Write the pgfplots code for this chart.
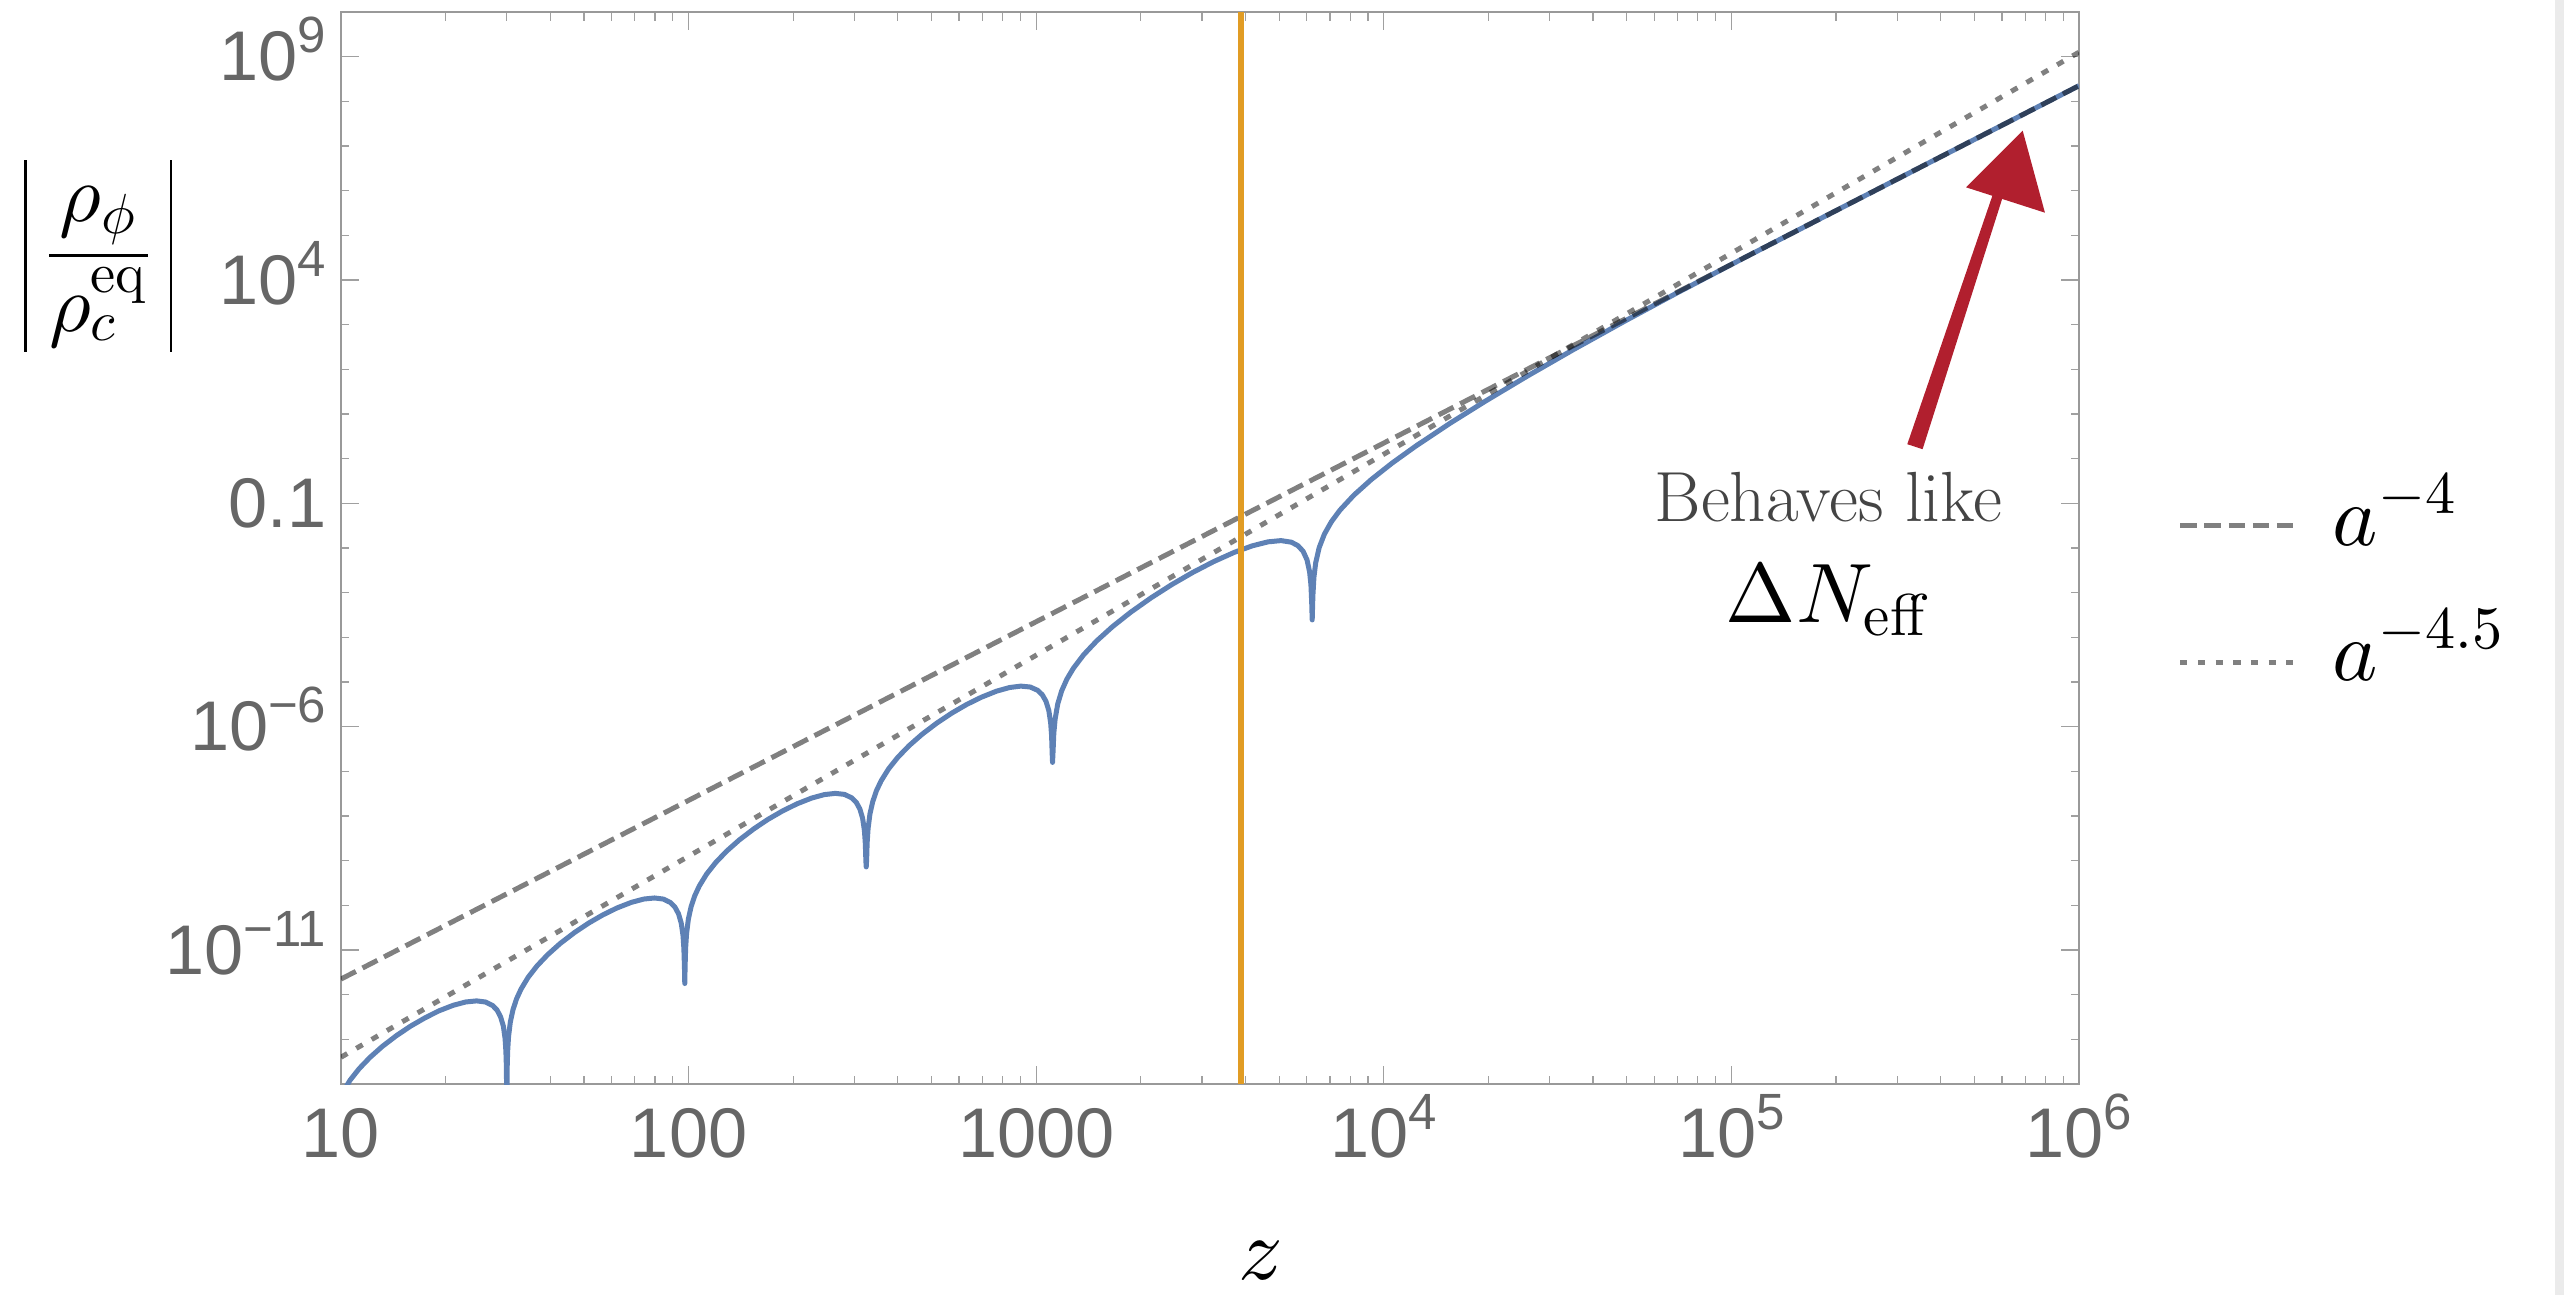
\RequirePackage{fix-cm}
\documentclass[border=0pt]{standalone}
\usepackage[no-math]{fontspec}
\setsansfont{Liberation Sans}
\DeclareFontShape{OML}{cmm}{m}{it}{<->cmmi10}{}
\DeclareFontShape{OMS}{cmsy}{m}{n}{<->cmsy10}{}
\DeclareFontShape{OT1}{cmr}{m}{n}{<->cmr10}{}
\DeclareFontShape{OMX}{cmex}{m}{n}{<->cmex10}{}
\usepackage{pgfplots}
\pgfplotsset{compat=1.18}
\definecolor{mblue}{HTML}{5E81B5}
\definecolor{morange}{HTML}{E19C24}
\definecolor{lgray}{HTML}{808080}
\definecolor{framegray}{HTML}{999999}
\definecolor{tickgray}{HTML}{A0A0A0}
\definecolor{labgray}{HTML}{666666}
\definecolor{arrowred}{HTML}{B11F2E}
\definecolor{txtgray}{HTML}{444444}
\definecolor{stripgray}{HTML}{EBEBEB}
\newcommand{\ex}[1]{\smash{\raisebox{0.4em}{\fontsize{14.5}{16}\selectfont #1}}}
\newcommand{\absbar}{\vcenter{\hbox{\vrule width 0.7pt height 27.3pt depth 27.3pt}}}
\begin{document}
\begin{tikzpicture}
\useasboundingbox (-3.41,-2.11) rectangle (22.23,10.84);
\begin{axis}[
  scale only axis, width=17.38cm, height=10.72cm,
  at={(0,0)}, anchor=south west,
  xmin=1, xmax=6, ymin=-14, ymax=10,
  clip mode=individual,
  xtick={1,2,3,4,5,6},
  xticklabels={10,100,1000,10\ex{4},10\ex{5},10\ex{6}},
  minor xtick={1.30103,1.47712,1.60206,1.69897,1.77815,1.84510,1.90309,1.95424,
    2.30103,2.47712,2.60206,2.69897,2.77815,2.84510,2.90309,2.95424,
    3.30103,3.47712,3.60206,3.69897,3.77815,3.84510,3.90309,3.95424,
    4.30103,4.47712,4.60206,4.69897,4.77815,4.84510,4.90309,4.95424,
    5.30103,5.47712,5.60206,5.69897,5.77815,5.84510,5.90309,5.95424},
  ytick={-11,-6,-1,4,9},
  yticklabels={10\ex{−11},10\ex{−6},0.1,10\ex{4},10\ex{9}},
  minor ytick={-14,-13,...,10},
  tick align=inside,
  major tick length=1.8mm, minor tick length=0.85mm,
  major tick style={draw=tickgray, line width=0.12mm},
  minor tick style={draw=tickgray, line width=0.12mm},
  axis line style={draw=framegray, line width=0.12mm},
  tick label style={font=\fontsize{20}{24}\selectfont\sffamily, text=labgray, inner sep=0pt},
  xticklabel style={anchor=north, yshift=-2.4mm},
  yticklabel style={anchor=east, xshift=-1.4mm},
  xlabel={$z$},
  ylabel={$\displaystyle\absbar\mkern4mu\frac{\rho_\phi}{\rho_c^{\mathrm{eq}}}\mkern4mu\absbar$},
  every axis x label/.style={at={(rel axis cs:0.5293,0)}, anchor=base, yshift=-1.95cm, inner sep=0pt, font=\fontsize{25}{30}\selectfont},
  every axis y label/.style={at={(rel axis cs:-0.1396,0.7726)}, anchor=center, inner sep=0pt, font=\fontsize{23}{28}\selectfont},
]
% |rho_phi / rho_c^eq| (log10 values) vs log10 z
\addplot[mblue, line width=0.5mm, line join=round, forget plot] coordinates {
(0.975,-14.914) (0.983,-14.637) (0.993,-14.395) (1.006,-14.178) (1.026,-13.915)
(1.052,-13.659) (1.083,-13.407) (1.119,-13.158) (1.160,-12.914) (1.201,-12.701)
(1.242,-12.517) (1.282,-12.361) (1.323,-12.237) (1.359,-12.163) (1.390,-12.139)
(1.416,-12.164) (1.436,-12.242) (1.449,-12.345) (1.459,-12.494) (1.467,-12.702)
(1.472,-12.979) (1.4744,-13.269) (1.476,-13.660) (1.477,-15.5)
(1.478,-13.651) (1.4796,-13.246) (1.4821,-12.933) (1.4872,-12.610) (1.4949,-12.333)
(1.5052,-12.091) (1.518,-11.874) (1.5384,-11.611) (1.564,-11.355) (1.5948,-11.103)
(1.6306,-10.854) (1.6716,-10.610) (1.7125,-10.397) (1.7535,-10.213) (1.7944,-10.057)
(1.8354,-9.933) (1.8712,-9.859) (1.902,-9.835) (1.9276,-9.860) (1.948,-9.938)
(1.9608,-10.041) (1.9711,-10.190) (1.9788,-10.398) (1.9839,-10.675) (1.9864,-10.965)
(1.988,-11.356) (1.989,-11.75)
(1.990,-11.347) (1.9916,-10.942) (1.9942,-10.629) (1.9994,-10.305) (2.0073,-10.027)
(2.0177,-9.785) (2.0308,-9.566) (2.0516,-9.302) (2.0777,-9.044) (2.1091,-8.789)
(2.1456,-8.537) (2.1874,-8.289) (2.2291,-8.072) (2.2709,-7.884) (2.3126,-7.725)
(2.3544,-7.597) (2.3909,-7.520) (2.4223,-7.493) (2.4484,-7.516) (2.4692,-7.593)
(2.4823,-7.694) (2.4927,-7.842) (2.5006,-8.050) (2.5058,-8.327) (2.5084,-8.616)
(2.510,-9.007) (2.511,-9.14)
(2.5121,-8.998) (2.5137,-8.592) (2.5164,-8.279) (2.5217,-7.954) (2.5298,-7.676)
(2.5405,-7.432) (2.5539,-7.212) (2.5753,-6.945) (2.6021,-6.684) (2.6343,-6.425)
(2.6718,-6.169) (2.7147,-5.916) (2.7576,-5.694) (2.8004,-5.501) (2.8433,-5.337)
(2.8862,-5.204) (2.9237,-5.123) (2.9559,-5.092) (2.9827,-5.112) (3.0041,-5.186)
(3.0175,-5.286) (3.0282,-5.433) (3.0363,-5.639) (3.0416,-5.916) (3.0443,-6.205)
(3.0459,-6.595) (3.047,-6.80)
(3.0485,-6.554) (3.0507,-6.146) (3.0545,-5.828) (3.0619,-5.493) (3.0731,-5.201)
(3.0881,-4.938) (3.1068,-4.694) (3.1366,-4.389) (3.174,-4.080) (3.2188,-3.765)
(3.2711,-3.442) (3.3309,-3.113) (3.3906,-2.816) (3.4504,-2.547) (3.5101,-2.306)
(3.5699,-2.097) (3.6222,-1.950) (3.667,-1.862) (3.7044,-1.834) (3.7342,-1.870)
(3.7529,-1.947) (3.7679,-2.074) (3.7791,-2.266) (3.7865,-2.534) (3.7903,-2.818)
(3.7925,-3.206) (3.794,-3.61)
(3.796,-3.065) (3.799,-2.655) (3.804,-2.334) (3.814,-1.993) (3.829,-1.690)
(3.849,-1.414) (3.874,-1.151) (3.914,-0.816) (3.964,-0.467) (4.024,-0.098)
(4.094,0.293) (4.194,0.810) (4.294,1.296) (4.414,1.854) (4.544,2.435)
(4.694,3.083) (4.844,3.713) (5.041,4.514) (6.0,8.35)
};
% a^{-4}
\addplot[lgray, line width=0.5mm, dash pattern=on 1.67mm off 0.75mm, blend mode=multiply]
  coordinates {(1,-11.65) (6,8.35)};
% a^{-4.5}
\addplot[lgray, line width=0.5mm, dash pattern=on 0.73mm off 1.04mm, blend mode=multiply]
  coordinates {(1,-13.4) (6,9.1)};
% matter-radiation equality
\addplot[morange, line width=0.6mm, forget plot] coordinates {(3.59,-14) (3.59,10)};
% annotation arrow
\fill[arrowred] (axis cs:5.506,0.324) -- (axis cs:5.550,0.212) -- (axis cs:5.781,5.868) -- (axis cs:5.753,5.938) -- cycle;
\fill[arrowred] (axis cs:5.838,7.342) -- (axis cs:5.675,6.075) -- (axis cs:5.902,5.507) -- cycle;
\node[anchor=base, inner sep=0pt, text=txtgray, font=\fontsize{20.2}{24}\selectfont] at (axis cs:5.279,-1.404) {Behaves like};
\node[anchor=base, inner sep=0pt, font=\fontsize{24}{28}\selectfont] at (axis cs:5.279,-3.675) {$\Delta N_{\mathrm{eff}}$};
% legend
\draw[lgray, line width=0.5mm, dash pattern=on 1.67mm off 0.75mm] (axis cs:6.291,-1.485) -- (axis cs:6.616,-1.485);
\node[anchor=base west, inner sep=0pt, font=\fontsize{24.5}{29}\selectfont] at (axis cs:6.728,-1.933) {$a^{-4}$};
\draw[lgray, line width=0.5mm, dash pattern=on 0.73mm off 1.04mm] (axis cs:6.291,-4.552) -- (axis cs:6.616,-4.552);
\node[anchor=base west, inner sep=0pt, font=\fontsize{24.5}{29}\selectfont] at (axis cs:6.728,-4.955) {$a^{-4.5}$};
\end{axis}
\fill[stripgray] (22.14,-2.11) rectangle (22.23,10.84);
\end{tikzpicture}
\end{document}
